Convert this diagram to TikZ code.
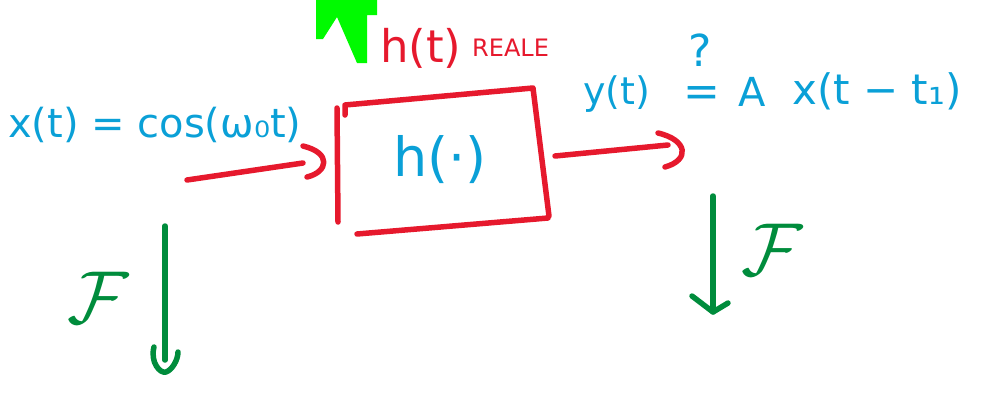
\documentclass[tikz,border=0pt]{standalone}
\usepackage{fontspec}
\setmainfont{DejaVu Sans}
\definecolor{inkblue}{RGB}{10,160,215}
\definecolor{inkred}{RGB}{230,25,45}
\definecolor{inkgreen}{RGB}{0,140,60}
\definecolor{marker}{RGB}{0,250,0}
\tikzset{
  pen/.style={line width=5.5pt,line cap=round,line join=round},
  bluetext/.style={text=inkblue,inner sep=0pt},
  redtext/.style={text=inkred,inner sep=0pt},
  greentext/.style={text=inkgreen,inner sep=0pt},
}
\begin{document}
\begin{tikzpicture}[x=1pt,y=-1pt]
\useasboundingbox (0,0) rectangle (997,392);

% bright marker arrow at the top, partly cut by the edge
\fill[marker] (316,0) -- (377,0) -- (377,15) -- (367,15) -- (367,63)
  -- (357,63) -- (337,17) -- (323,39) -- (316,39) -- cycle;

% labels
\node[redtext,anchor=base west,font=\fontsize{45}{50}\selectfont] (hreal) at (380,62) {h(t)};
\node[redtext,anchor=base west,font=\fontsize{24}{28}\selectfont] (reale) at (472,56) {REALE};

\node[bluetext,anchor=base west,font=\fontsize{40}{46}\selectfont] (xin) at (8,137) {x(t) = cos(ω₀t)};

\node[bluetext,anchor=base west,font=\fontsize{38}{44}\selectfont] (yout) at (583,104) {y(t)};
\node[bluetext,anchor=base,font=\fontsize{44}{50}\selectfont] (eq) at (702,106) {=};
\node[bluetext,anchor=base,font=\fontsize{44}{50}\selectfont] (qm) at (700,66) {?};
\node[bluetext,anchor=base west,font=\fontsize{40}{46}\selectfont] (amp) at (738,106) {A};
\node[bluetext,anchor=base west,font=\fontsize{42}{48}\selectfont] (rhs) at (792,104) {x(t − t₁)};

% system block
\node[bluetext,font=\fontsize{54}{60}\selectfont] (sys) at (440,160) {h(·)};
\draw[pen,inkred] (337,108) -- (338,222);
\draw[pen,inkred] (345,115) -- (345,105) -- (533,88) -- (549,216);
\draw[pen,inkred] (357,234) -- (548,218);
\coordinate (boxW) at (303,163);
\coordinate (boxE) at (555,156);

% input arrow
\coordinate (inS) at (187,180);
\draw[pen,inkred] (inS) -- (boxW);
\draw[pen,inkred] (303,146) .. controls (332,153) and (328,172) .. (307,177);

% output arrow
\coordinate (outE) at (668,145);
\draw[pen,inkred] (boxE) -- (outE);
\draw[pen,inkred] (658,133) .. controls (688,140) and (690,160) .. (665,167);

% transform arrows
\coordinate (lT) at (165,226);
\coordinate (lB) at (165,360);
\draw[pen,inkgreen] (lT) -- (lB);
\draw[pen,inkgreen] (154,347) .. controls (150,362) and (160,374) .. (166,372)
  .. controls (172,370) and (178,360) .. (178,352);
\node[greentext,scale=7.5] (fl) at (98,298) {$\mathcal{F}$};

\coordinate (rT) at (713,196);
\coordinate (rB) at (713,312);
\draw[pen,inkgreen] (rT) -- (rB);
\draw[pen,inkgreen] (692,296) -- (713,312) -- (728,303);
\node[greentext,scale=7.5] (fr) at (772,250) {$\mathcal{F}$};
\end{tikzpicture}
\end{document}
